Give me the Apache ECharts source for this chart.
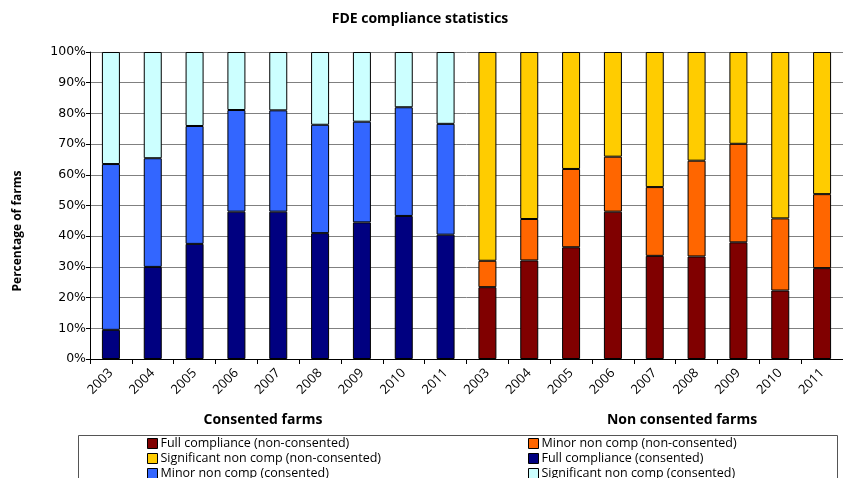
<!DOCTYPE html>
<html>
<head>
<meta charset="utf-8">
<script src="https://cdn.jsdelivr.net/npm/echarts@6/dist/echarts.min.js"></script>
<style>
  html, body { margin: 0; padding: 0; background: #fff; }
  #chart { width: 843px; height: 478px; }
</style>
</head>
<body>
<div id="chart"></div>
<script>
(function(){
  const years = ['2003', '2004', '2005', '2006', '2007', '2008', '2009', '2010', '2011'];
  const groupLabels = ['Consented farms', 'Non consented farms'];
  const yTicks = [0, 10, 20, 30, 40, 50, 60, 70, 80, 90, 100];

  // consented farms (% of farms)
  const fullC  = [9.5, 30, 37.5, 48, 48, 41, 44.5, 46.6, 40.5];
  const minorC = [54, 35.4, 38.4, 33.1, 33, 35.3, 32.8, 35.4, 36.1];
  const sigC   = [36.5, 34.6, 24.1, 18.9, 19, 23.7, 22.7, 18, 23.4];

  // non consented farms (% of farms)
  const fullNC  = [23.4, 32.1, 36.4, 48, 33.6, 33.4, 38, 22.3, 29.6];
  const minorNC = [8.6, 13.5, 25.5, 17.9, 22.4, 31.2, 32.1, 23.5, 24.1];
  const sigNC   = [68, 54.4, 38.1, 34.1, 44, 35.4, 29.9, 54.2, 46.3];

  const blank = years.map(() => '-');
  const categories = years.concat(years);
  const left  = vals => vals.concat(blank);
  const right = vals => blank.concat(vals);

  const FONT = '"Open Sans", sans-serif';

  const seriesDefs = [
    { name: 'Full compliance (non-consented)',      data: right(fullNC),  color: '#800000' },
    { name: 'Minor non comp (non-consented)',       data: right(minorNC), color: '#FF6600' },
    { name: 'Significant non comp (non-consented)', data: right(sigNC),   color: '#FFCC00' },
    { name: 'Full compliance (consented)',          data: left(fullC),    color: '#000080' },
    { name: 'Minor non comp (consented)',           data: left(minorC),   color: '#3366FF' },
    { name: 'Significant non comp (consented)',     data: left(sigC),     color: '#CCFFFF' }
  ];

  // legend laid out in two columns, row by row, like the original
  const legendCols = [147, 528];
  const legendRows = [437, 452, 467];
  const legends = seriesDefs.map((s, i) => ({
    left: legendCols[i % 2],
    top: legendRows[Math.floor(i / 2)],
    padding: 0,
    icon: 'rect',
    itemWidth: 10,
    itemHeight: 10,
    itemGap: 0,
    selectedMode: false,
    data: [s.name],
    itemStyle: { borderColor: '#000', borderWidth: 1 },
    textStyle: { fontFamily: FONT, fontSize: 12.5, color: '#000', padding: [0, 0, 0, -2] }
  }));

  const chart = echarts.init(document.getElementById('chart'), null, { renderer: 'canvas' });
  chart.setOption({
    animation: false,
    title: {
      text: 'FDE compliance statistics',
      left: 415,
      top: 7,
      textAlign: 'center',
      textStyle: { fontFamily: FONT, fontSize: 14, fontWeight: 'bold', color: '#000' }
    },
    legend: legends,
    grid: { left: 90, top: 52, width: 763, height: 307, containLabel: false },
    xAxis: {
      type: 'category',
      data: categories,
      axisLine: { lineStyle: { color: '#000', width: 1 } },
      axisTick: { show: true, length: 5, inside: false, lineStyle: { color: '#000' } },
      axisLabel: { rotate: 45, margin: 12, fontFamily: FONT, fontSize: 13, color: '#000', interval: 0 },
      splitLine: { show: false }
    },
    yAxis: {
      type: 'value',
      min: yTicks[0],
      max: yTicks[yTicks.length - 1],
      interval: 10,
      axisLine: { show: true, lineStyle: { color: '#000', width: 1 } },
      axisTick: { show: true, length: 4, lineStyle: { color: '#000' } },
      axisLabel: { formatter: '{value}%', margin: 4, fontFamily: '"DejaVu Sans", sans-serif', fontSize: 12.5, color: '#000' },
      splitLine: { show: true, lineStyle: { color: '#808080', width: 1 } }
    },
    graphic: [
      {
        type: 'text',
        x: 18, y: 231,
        rotation: Math.PI / 2,
        style: {
          text: 'Percentage of farms',
          font: 'bold 12px ' + FONT,
          fill: '#000',
          align: 'center',
          verticalAlign: 'middle'
        }
      },
      {
        type: 'text',
        x: 263, y: 420,
        style: { text: groupLabels[0], font: 'bold 14px ' + FONT, fill: '#000', align: 'center', verticalAlign: 'middle' }
      },
      {
        type: 'text',
        x: 682, y: 420,
        style: { text: groupLabels[1], font: 'bold 14px ' + FONT, fill: '#000', align: 'center', verticalAlign: 'middle' }
      },
      {
        type: 'rect',
        z: -1,
        shape: { x: 78.5, y: 435.5, width: 759, height: 60 },
        style: { fill: '#fff', stroke: '#555', lineWidth: 1 }
      }
    ],
    series: seriesDefs.map(s => ({
      name: s.name,
      type: 'bar',
      stack: 'total',
      data: s.data,
      barWidth: 18,
      itemStyle: { color: s.color, borderColor: '#000', borderWidth: 1 }
    }))
  });
})();
</script>
</body>
</html>
